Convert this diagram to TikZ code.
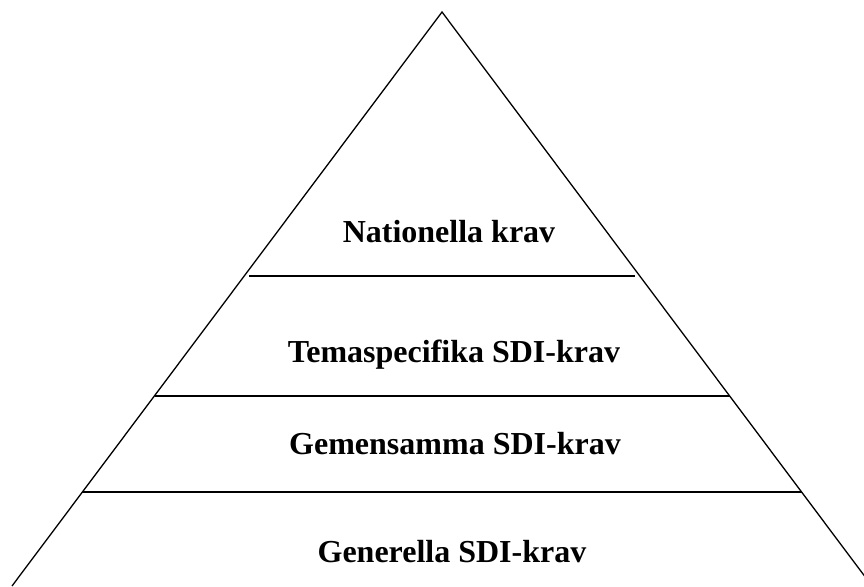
\documentclass[tikz,border=0pt]{standalone}
\usepackage{fontspec}
\setmainfont{Liberation Serif}
\begin{document}
\begin{tikzpicture}[x=1pt,y=-1pt,
  edge/.style={line width=1.3pt,black},
  band/.style={line width=1.7pt,black},
  lbl/.style={font=\fontsize{32}{36}\selectfont\bfseries,anchor=base,inner sep=0pt}]
\useasboundingbox (0,0) rectangle (864,586);
\clip (0,0) rectangle (864,586);
\coordinate (apex) at (442,12);
\coordinate (bl) at (12,586);
\coordinate (br) at (872,586);
\draw[edge,line join=miter] (bl) -- (apex) -- (br);
\coordinate (l1a) at (249,276); \coordinate (l1b) at (635,276);
\coordinate (l2a) at (155,396); \coordinate (l2b) at (730,396);
\coordinate (l3a) at (82,492);  \coordinate (l3b) at (802,492);
\draw[band] (l1a) -- (l1b);
\draw[band] (l2a) -- (l2b);
\draw[band] (l3a) -- (l3b);
\node[lbl] (t1) at (449,242) {Nationella krav};
\node[lbl] (t2) at (454,362) {Temaspecifika SDI-krav};
\node[lbl] (t3) at (455,454) {Gemensamma SDI-krav};
\node[lbl] (t4) at (452,562) {Generella SDI-krav};
\end{tikzpicture}
\end{document}
